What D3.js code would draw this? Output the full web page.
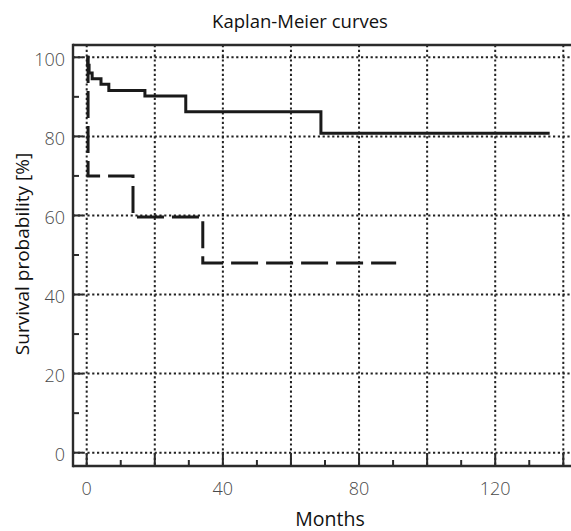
<!DOCTYPE html>
<html>
<head>
<meta charset="utf-8">
<script src="https://cdn.jsdelivr.net/npm/d3@7"></script>
<style>
  html, body { margin: 0; padding: 0; background: #fff; }
  svg { display: block; }
</style>
</head>
<body>
<svg id="chart" width="571" height="531"></svg>
<script>
// ---- data ----
const xTicks = [0, 40, 80, 120];
const xGridTicks = [0, 20, 40, 60, 80, 100, 120, 140];
const xMinorTicks = [10, 30, 50, 70, 90, 110, 130];
const yTicks = [0, 20, 40, 60, 80, 100];
const yMinorTicks = [10, 30, 50, 70, 90];

// group 1 (solid)
const solidTimes = [0, 0.3, 0.7, 1.6, 4.2, 6.5, 17.1, 29.1, 68.8, 136];
const solidSurv  = [100, 98, 96, 94.6, 93.2, 91.6, 90.2, 86.2, 80.8, 80.8];
// group 2 (dashed)
const dashTimes = [0, 0.4, 13.6, 34.1, 90.9];
const dashSurv  = [100, 70, 59.6, 48, 48];

const titleText = "Kaplan-Meier curves";
const xLabel = "Months";
const yLabel = "Survival probability [%]";

// ---- layout ----
const svg = d3.select("#chart");
const axisLeft = 73, axisBottom = 466, frameTop = 45, frameRight = 571;
const x = d3.scaleLinear().domain([0, 140]).range([86.7, 563.3]);
const y = d3.scaleLinear().domain([0, 100]).range([452.7, 57.3]);
const ink = "#2b2b2b";
const font = "'Open Sans', 'DejaVu Sans', sans-serif";

// grid
const grid = svg.append("g").attr("stroke", "#222").attr("stroke-width", 2)
  .attr("stroke-dasharray", "2.2,2.6").attr("fill", "none");
grid.selectAll("line.h").data(yTicks).join("line").attr("class", "h")
  .attr("x1", axisLeft).attr("x2", frameRight)
  .attr("y1", d => y(d)).attr("y2", d => y(d));
grid.selectAll("line.v").data(xGridTicks).join("line").attr("class", "v")
  .attr("y1", frameTop).attr("y2", axisBottom)
  .attr("x1", d => x(d)).attr("x2", d => x(d));

// frame / axes lines
const frame = svg.append("g").attr("stroke", ink).attr("stroke-width", 2.4).attr("fill", "none");
frame.append("line").attr("x1", axisLeft).attr("x2", frameRight).attr("y1", frameTop).attr("y2", frameTop);
frame.append("line").attr("x1", axisLeft).attr("x2", axisLeft).attr("y1", frameTop - 1.2).attr("y2", axisBottom + 1.2);
frame.append("line").attr("x1", axisLeft).attr("x2", frameRight).attr("y1", axisBottom).attr("y2", axisBottom);

// ticks
const ticks = svg.append("g").attr("stroke", ink).attr("stroke-width", 2);
ticks.selectAll("line.xM").data(xGridTicks).join("line").attr("class", "xM")
  .attr("x1", d => x(d)).attr("x2", d => x(d)).attr("y1", axisBottom).attr("y2", axisBottom - 13);
ticks.selectAll("line.xm").data(xMinorTicks).join("line").attr("class", "xm")
  .attr("x1", d => x(d)).attr("x2", d => x(d)).attr("y1", axisBottom).attr("y2", axisBottom - 6);
ticks.selectAll("line.yM").data(yTicks).join("line").attr("class", "yM")
  .attr("y1", d => y(d)).attr("y2", d => y(d)).attr("x1", axisLeft).attr("x2", axisLeft + 10);
ticks.selectAll("line.ym").data(yMinorTicks).join("line").attr("class", "ym")
  .attr("y1", d => y(d)).attr("y2", d => y(d)).attr("x1", axisLeft).attr("x2", axisLeft + 6);

// tick labels
svg.append("g").selectAll("text").data(xTicks).join("text")
  .attr("x", d => x(d)).attr("y", 495).attr("text-anchor", "middle")
  .attr("font-family", font).attr("font-size", 18).attr("font-weight", 300).attr("fill", "#4a4a4a")
  .text(d => d);
svg.append("g").selectAll("text").data(yTicks).join("text")
  .attr("x", 65).attr("y", d => y(d) + 8.5).attr("text-anchor", "end")
  .attr("font-family", font).attr("font-size", 18).attr("font-weight", 300).attr("fill", "#4a4a4a")
  .text(d => d);

// curves
const line = d3.line().x(d => x(d[0])).y(d => y(d[1])).curve(d3.curveStepAfter);
const solidData = solidTimes.map((t, i) => [t, solidSurv[i]]);
const dashData = dashTimes.map((t, i) => [t, dashSurv[i]]);
svg.append("path").datum(dashData).attr("d", line)
  .attr("fill", "none").attr("stroke", "#1a1a1a").attr("stroke-width", 3)
  .attr("stroke-dasharray", "27,8").attr("stroke-linejoin", "miter");
svg.append("path").datum(solidData).attr("d", line)
  .attr("fill", "none").attr("stroke", "#1a1a1a").attr("stroke-width", 3)
  .attr("stroke-linejoin", "miter");

// titles
svg.append("text").attr("x", 300).attr("y", 28).attr("text-anchor", "middle")
  .attr("font-family", font).attr("font-size", 18.5).attr("fill", "#111").text(titleText);
svg.append("text").attr("x", 330).attr("y", 526).attr("text-anchor", "middle")
  .attr("font-family", font).attr("font-size", 19.5).attr("fill", "#111").text(xLabel);
svg.append("text").attr("transform", "translate(29,254) rotate(-90)").attr("text-anchor", "middle")
  .attr("font-family", font).attr("font-size", 19).attr("fill", "#111").text(yLabel);
</script>
</body>
</html>
